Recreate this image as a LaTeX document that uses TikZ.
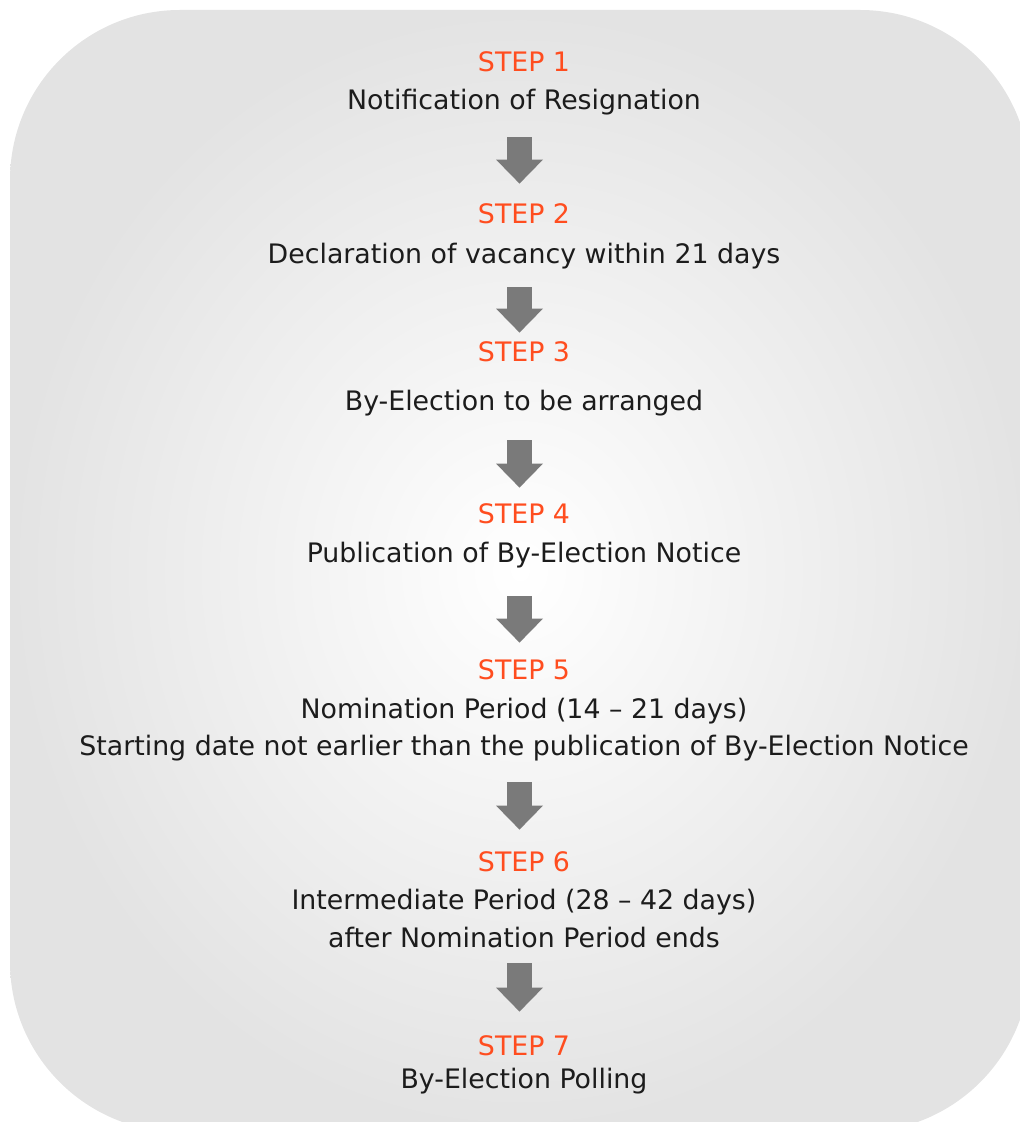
\documentclass[tikz,border=0pt]{standalone}
\usepackage{fontspec}
\setmainfont{DejaVu Sans}
\usetikzlibrary{arrows.meta}
\definecolor{stepred}{RGB}{255,77,31}
\definecolor{textgrey}{RGB}{28,28,28}
\definecolor{arrowgrey}{RGB}{122,122,122}
\definecolor{panelgrey}{RGB}{227,227,227}

\begin{document}
\begin{tikzpicture}[
    x=0.5pt, y=-0.5pt,
    steplabel/.style={anchor=base, inner sep=0pt, text height=10pt, text depth=3pt, font=\fontsize{13.4}{16}\selectfont, text=stepred},
    desc/.style={steplabel, text=textgrey},
    flow/.style={line width=12.5pt, color=arrowgrey, -{Triangle[width=23.5pt, length=12pt, line width=0pt]}}
]
\useasboundingbox (0,0) rectangle (1020,1122);
\clip (0,0) rectangle (1020,1122);

% Panel
\shade[rounded corners=85pt, inner color=white, outer color=panelgrey] (10,10) rectangle (1030,1132);

% Step 1
\node[steplabel] (s1) at (524,72) {STEP 1};
\node[desc] (d1) at (524,110) {Notification of Resignation};

% Step 2
\node[steplabel] (s2) at (524,224) {STEP 2};
\node[desc] (d2) at (524,264) {Declaration of vacancy within 21 days};

% Step 3
\node[steplabel] (s3) at (524,362) {STEP 3};
\node[desc] (d3) at (524,410) {By-Election to be arranged};

% Step 4
\node[steplabel] (s4) at (524,523) {STEP 4};
\node[desc] (d4) at (524,562) {Publication of By-Election Notice};

% Step 5
\node[steplabel] (s5) at (524,679) {STEP 5};
\node[desc] (d5a) at (524,718) {Nomination Period (14 -- 21 days)};
\node[desc] (d5b) at (524,755) {Starting date not earlier than the publication of By-Election Notice};

% Step 6
\node[steplabel] (s6) at (524,871) {STEP 6};
\node[desc] (d6a) at (524,909) {Intermediate Period (28 -- 42 days)};
\node[desc] (d6b) at (524,947) {after Nomination Period ends};

% Step 7
\node[steplabel] (s7) at (524,1055) {STEP 7};
\node[desc] (d7) at (524,1088) {By-Election Polling};

% Arrows
\coordinate (ax) at (519.5,0);
\draw[flow, shorten <=10.5pt, shorten >=10pt] (d1.south -| ax) -- (s2.north -| ax);
\draw[flow, shorten <=8.5pt, shorten >=4.5pt] (d2.south -| ax) -- (s3.north -| ax);
\draw[flow, shorten <=12pt, shorten >=7.5pt] (d3.south -| ax) -- (s4.north -| ax);
\draw[flow, shorten <=14pt, shorten >=8pt] (d4.south -| ax) -- (s5.north -| ax);
\draw[flow, shorten <=10.5pt, shorten >=10.5pt] (d5b.south -| ax) -- (s6.north -| ax);
\draw[flow, shorten <=5pt, shorten >=11.5pt] (d6b.south -| ax) -- (s7.north -| ax);

\end{tikzpicture}
\end{document}
